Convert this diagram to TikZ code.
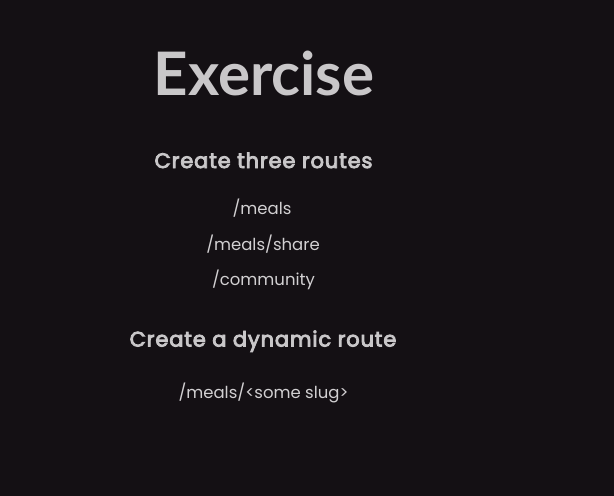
\documentclass[tikz,border=0pt]{standalone}
\usepackage{fontspec}
\setmainfont{Lato}
\newfontfamily\pop{Poppins}
\newfontfamily\pophead{Poppins}[LetterSpace=4,FakeBold=4]
\definecolor{bg}{HTML}{141014}
\definecolor{fg}{HTML}{C9C7C9}
\definecolor{fgl}{HTML}{D2D0D2}
\begin{document}
\begin{tikzpicture}[x=1pt,y=-1pt,
  title/.style={text=fg,anchor=base,inner sep=0pt,font=\fontsize{60}{60}\selectfont\bfseries},
  head/.style={text=fg,anchor=base,inner sep=0pt,font=\pophead\fontsize{21}{21}\selectfont},
  route/.style={text=fgl,anchor=base,inner sep=0pt,font=\pop\fontsize{16.5}{16.5}\selectfont}]
\fill[bg] (0,0) rectangle (614,496);
\useasboundingbox (0,0) rectangle (614,496);
\node[title] (t) at (264,95) {Exercise};
\node[head] (h1) at (263.5,168) {Create three routes};
\node[route] (r1) at (262,214) {/meals};
\node[route] (r2) at (263,250) {/meals/share};
\node[route] (r3) at (263.5,285) {/community};
\node[head] (h2) at (263,346.5) {Create a dynamic route};
\node[route] (r4) at (263.5,398) {/meals/<some slug>};
\end{tikzpicture}
\end{document}
